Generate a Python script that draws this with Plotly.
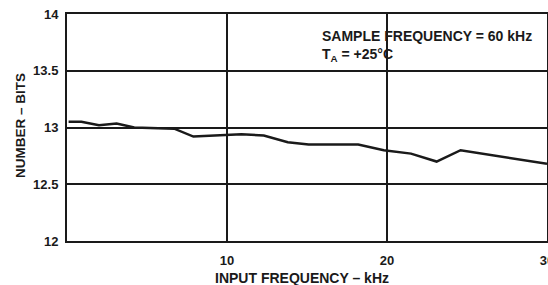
import plotly.graph_objects as go

input_freq_khz = [0.1, 0.9, 2.0, 3.1, 4.2, 6.7, 7.9, 10.0, 10.9, 12.3, 13.8, 15.1, 18.2, 19.8, 21.5, 23.1, 24.6, 30.0]
number_bits = [13.05, 13.05, 13.02, 13.035, 13.0, 12.99, 12.92, 12.93, 12.94, 12.93, 12.87, 12.85, 12.85, 12.80, 12.77, 12.70, 12.80, 12.68]

x_ticks = [10, 20, 30]
y_ticks = [12, 12.5, 13, 13.5, 14]
y_tick_labels = ["12", "12.5", "13", "13.5", "14"]

ink = "#1a1a1a"
font = dict(family="Liberation Sans, Arial, sans-serif", size=13, color=ink, weight="bold")

fig = go.Figure()
fig.add_trace(go.Scatter(x=input_freq_khz, y=number_bits, mode="lines",
                         line=dict(color=ink, width=2.5), showlegend=False))

fig.update_layout(
    width=548, height=285,
    margin=dict(l=67, r=1, t=14, b=44, autoexpand=False),
    paper_bgcolor="white", plot_bgcolor="white",
    font=font,
    xaxis=dict(range=[0, 30], tickvals=x_ticks, ticktext=[str(v) for v in x_ticks],
               showgrid=True, gridcolor=ink, gridwidth=1.6,
               showline=True, linecolor=ink, linewidth=2, mirror=True,
               zeroline=False, ticks="", ticklabelstandoff=6, automargin=False,
               ticklabeloverflow="allow"),
    yaxis=dict(range=[12, 14], tickvals=y_ticks, ticktext=y_tick_labels,
               showgrid=True, gridcolor=ink, gridwidth=1.6,
               showline=True, linecolor=ink, linewidth=2, mirror=True,
               zeroline=False, ticks="", ticklabelstandoff=4, automargin=False),
    annotations=[
        dict(text="SAMPLE FREQUENCY = 60 kHz<br>T<sub>A</sub> = +25°C",
             xref="x", yref="y", x=15.8, y=13.895, xanchor="left", yanchor="top",
             align="left", showarrow=False, font=dict(size=14)),
        dict(text="INPUT FREQUENCY – kHz", xref="paper", yref="paper",
             x=0.49, y=-0.165, xanchor="center", yanchor="middle",
             showarrow=False, font=dict(size=14)),
        dict(text="NUMBER – BITS", xref="paper", yref="paper", textangle=-90,
             x=-0.098, y=0.511, xanchor="center", yanchor="middle",
             showarrow=False, font=dict(size=13.5)),
    ],
)

fig.write_html("out.html", config={"displayModeBar": False},
               post_script="document.body.style.margin='0';")
